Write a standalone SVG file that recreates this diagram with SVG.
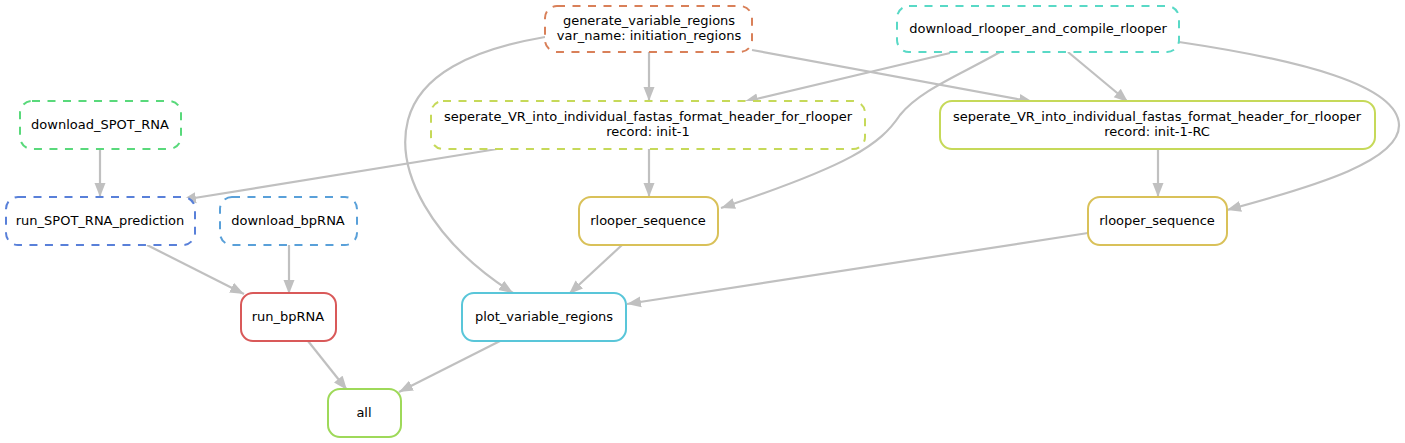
<svg xmlns="http://www.w3.org/2000/svg" width="1405" height="443" viewBox="0 0 1405 443">
<style>
.n rect{fill:#fff;stroke-width:2}
.d rect{stroke-dasharray:8,7.5}
.n text{font-family:"DejaVu Sans",sans-serif;font-size:13px;fill:#000;text-anchor:middle}
.e path{fill:none;stroke:#c0c0c0;stroke-width:2.2;marker-end:url(#a)}
</style>
<defs>
<marker id="a" markerUnits="userSpaceOnUse" markerWidth="15" markerHeight="12" refX="14" refY="6" orient="auto">
<path d="M0,0.5 L14,6 L0,11.5 Z" fill="#c0c0c0"/>
</marker>
</defs>
<rect width="1405" height="443" fill="#fff"/>
<g id="edges" class="e">
<path d="M649,52 L649,101"/>
<path d="M752,50 L1033,102"/>
<path d="M545,37 C470,50 420,75 408,120 C395,170 430,240 513,293"/>
<path d="M950,53 L744,102"/>
<path d="M1068,52 L1128,102"/>
<path d="M1000,52 C960,75 920,90 900,115 C880,145 850,165 721,208"/>
<path d="M1179,42 C1300,60 1398,85 1399,125 C1400,160 1320,185 1227,210"/>
<path d="M100,149 L100,197"/>
<path d="M497,149 L182,200"/>
<path d="M649,149 L649,197"/>
<path d="M1158,149 L1158,197"/>
<path d="M147,245 L244,294"/>
<path d="M289,245 L289,294"/>
<path d="M622,245 L569,294"/>
<path d="M1088,233 L627,304"/>
<path d="M308,341 L347,390"/>
<path d="M500,341 L399,392"/>
</g>
<g id="generate_variable_regions" class="n d"><rect x="545" y="6" width="207" height="46" rx="12" stroke="#d98059"/><text x="649" y="25">generate_variable_regions</text><text x="649" y="40">var_name: initiation_regions</text></g>
<g id="download_rlooper_and_compile_rlooper" class="n d"><rect x="897" y="6" width="282" height="46" rx="12" stroke="#59d9c6"/><text x="1038" y="33">download_rlooper_and_compile_rlooper</text></g>
<g id="download_SPOT_RNA" class="n d"><rect x="20" y="101" width="161" height="48" rx="12" stroke="#59d97b"/><text x="100" y="129">download_SPOT_RNA</text></g>
<g id="seperate_init1" class="n d"><rect x="431" y="101" width="434" height="48" rx="12" stroke="#c6d959"/><text x="648" y="121">seperate_VR_into_individual_fastas_format_header_for_rlooper</text><text x="648" y="136">record: init-1</text></g>
<g id="seperate_init1RC" class="n"><rect x="940" y="101" width="435" height="48" rx="12" stroke="#c6d959"/><text x="1157" y="121">seperate_VR_into_individual_fastas_format_header_for_rlooper</text><text x="1157" y="136">record: init-1-RC</text></g>
<g id="run_SPOT_RNA_prediction" class="n d"><rect x="6" y="197" width="189" height="48" rx="12" stroke="#5980d9"/><text x="100" y="225">run_SPOT_RNA_prediction</text></g>
<g id="download_bpRNA" class="n d"><rect x="220" y="197" width="137" height="48" rx="12" stroke="#59a0d9"/><text x="288" y="225">download_bpRNA</text></g>
<g id="rlooper_sequence_1" class="n"><rect x="579" y="197" width="139" height="48" rx="12" stroke="#d9c159"/><text x="648" y="225">rlooper_sequence</text></g>
<g id="rlooper_sequence_2" class="n"><rect x="1088" y="197" width="139" height="48" rx="12" stroke="#d9c159"/><text x="1157" y="225">rlooper_sequence</text></g>
<g id="run_bpRNA" class="n"><rect x="241" y="293" width="95" height="48" rx="12" stroke="#d95959"/><text x="288" y="321">run_bpRNA</text></g>
<g id="plot_variable_regions" class="n"><rect x="462" y="293" width="164" height="48" rx="12" stroke="#59c6d9"/><text x="544" y="321">plot_variable_regions</text></g>
<g id="all" class="n"><rect x="328" y="389" width="73" height="48" rx="12" stroke="#9ed959"/><text x="364" y="417">all</text></g>
</svg>
